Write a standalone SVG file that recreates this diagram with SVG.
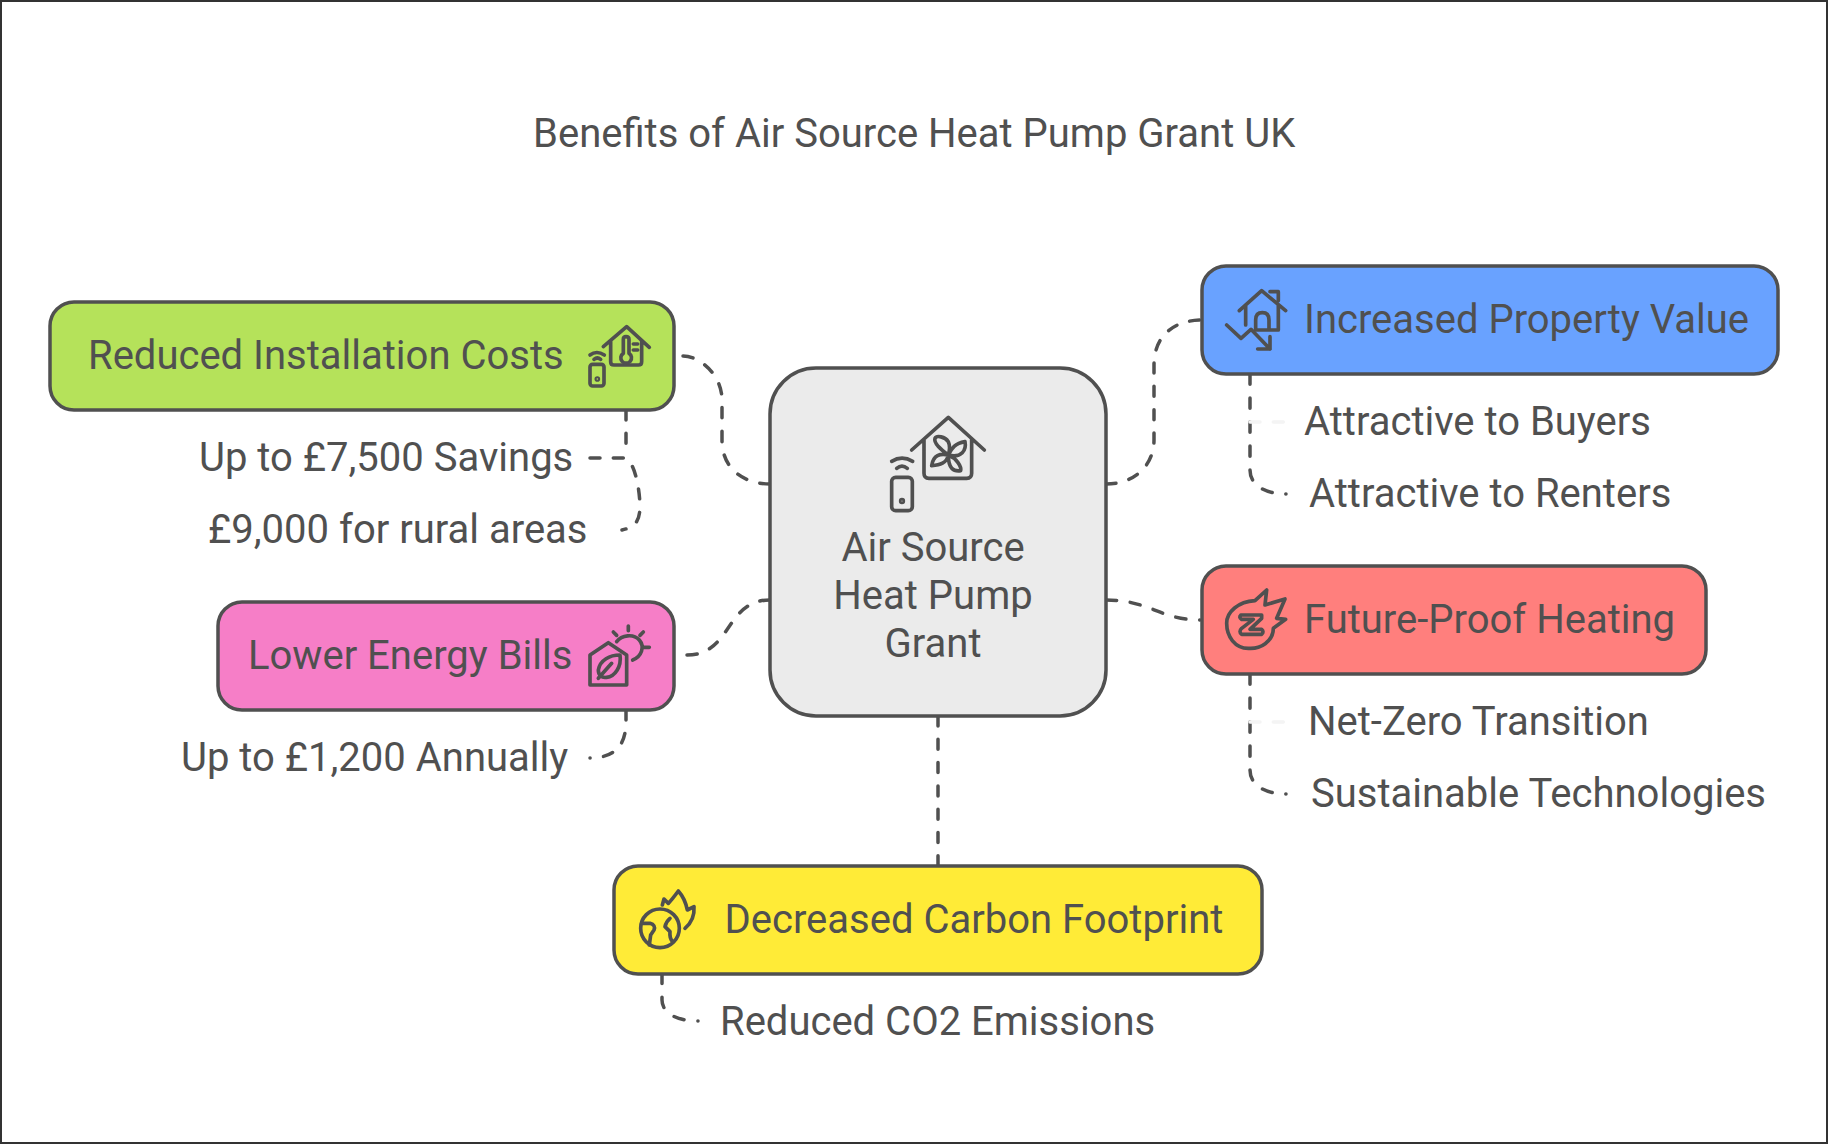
<svg xmlns="http://www.w3.org/2000/svg" width="1828" height="1144" viewBox="0 0 1828 1144">
<style>
text{font-family:Roboto,"Liberation Sans",sans-serif;font-size:40px;fill:#505050}
.box{stroke:#505050;stroke-width:3.5}
.ic{fill:none;stroke:#505050;stroke-width:11;stroke-linecap:round;stroke-linejoin:round}
.con{fill:none;stroke:#505050;stroke-width:3.5;stroke-linecap:round;stroke-dasharray:10 13.3}
.faint{fill:none;stroke:#f4f4f4;stroke-width:3.5;stroke-linecap:round;stroke-dasharray:10 13.3}
</style>
<rect x="0" y="0" width="1828" height="1144" fill="#fff"/>
<rect x="1" y="1" width="1826" height="1142" fill="none" stroke="#333" stroke-width="2"/>
<text id="title" x="533" y="147">Benefits of Air Source Heat Pump Grant UK</text>
<g id="connectors">
<path class="con" pathLength="173.1" d="M770 484C745 484 722 470 722 440L722 400C722 375 700 356 683 356"/>
<path class="con" d="M1106 484C1135 484 1154 465 1154 440L1154 365C1154 335 1175 320 1202 320"/>
<path class="con" pathLength="93.5" d="M1106 600C1150 600 1160 620 1200 620"/>
<path class="con" pathLength="103.2" d="M770 600C725 600 732 655 687 655"/>
<path class="con" d="M938 716V866"/>
<path class="con" d="M626 410V446"/>
<path class="con" d="M590 458L624 458C632 458 639 480 640 505C640 522 635 527 622 530"/>
<path class="con" pathLength="70" d="M626 710V722C626 745 615 758 590 758"/>
<path class="con" pathLength="140" d="M1250 374V470C1250 485 1265 494 1286 494"/>
<path class="faint" d="M1250 422H1286"/>
<path class="con" pathLength="140" d="M1250 674V770C1250 785 1265 794 1286 794"/>
<path class="faint" d="M1250 722H1286"/>
<path class="con" pathLength="70" d="M662 973V1000C662 1012 675 1021 698 1021"/>
</g>
<g id="central">
<rect class="box" x="770" y="368" width="336" height="348" rx="46" fill="#ebebeb"/>
<g class="ic" transform="translate(870 400) scale(.3333)">
<path d="M125 150L235 52L343 150M162 118V220Q162 235 177 235H290Q305 235 305 220V118"/>
<path d="M235 165C215 150 190 130 195 115C200 105 225 110 235 125C242 140 238 155 235 165ZM235 165C245 145 255 130 285 125C290 150 275 175 235 165ZM235 165C260 175 275 200 272 212C250 215 235 205 235 165ZM235 165C210 160 190 165 185 197C210 195 230 190 235 165Z"/>
<rect x="65" y="232" width="62" height="100" rx="12"/>
<path d="M65 184Q96 165 128 184M80 205Q96 192 112 205"/>
<circle cx="96" cy="303" r="4"/>
</g>
<text x="933" y="561" text-anchor="middle">Air Source</text>
<text x="933" y="609" text-anchor="middle">Heat Pump</text>
<text x="933" y="657" text-anchor="middle">Grant</text>
</g>
<g id="reduced-costs">
<rect class="box" x="50" y="302" width="624" height="108" rx="24" fill="#b5e25a"/>
<text x="88" y="369">Reduced Installation Costs</text>
<g class="ic" transform="translate(570 320) scale(.3333)">
<path d="M100 80L170 20L238 82M122 62V125Q122 135 132 135H205Q215 135 215 125V62"/>
<path d="M160 100V58Q160 50 168 50Q177 50 177 58V100A16 16 0 1 1 160 100Z"/>
<path d="M190 72H203M190 90H203M60 105Q80 90 103 105M72 118Q82 110 92 118"/>
<rect x="60" y="133" width="42" height="65" rx="8"/>
<circle cx="82" cy="177" r="3"/>
</g>
</g>
<g id="savings"><text x="199" y="471">Up to £7,500 Savings</text></g>
<g id="rural"><text x="208" y="543">£9,000 for rural areas</text></g>
<g id="lower-bills">
<rect class="box" x="218" y="602" width="456" height="108" rx="24" fill="#f67ec7"/>
<text x="248" y="669">Lower Energy Bills</text>
<g class="ic" transform="translate(580 620) scale(.3333)">
<path d="M30 105L85 68L140 105V195H30Z"/>
<path d="M55 150C60 120 90 105 120 105C125 140 105 170 80 172C65 175 55 165 55 150ZM55 175L95 130"/>
<path d="M110 65C125 45 160 40 178 60C195 80 185 110 158 120M145 18V32M100 36L110 46M190 36L180 46M192 82H208"/>
</g>
</g>
<g id="annually"><text x="181" y="771">Up to £1,200 Annually</text></g>
<g id="property-value">
<rect class="box" x="1202" y="266" width="576" height="108" rx="24" fill="#69a2ff"/>
<text x="1304" y="333">Increased Property Value</text>
<g class="ic" transform="translate(1215 280) scale(.3333)">
<path d="M73 92L140 32L212 92M165 35H190V62M92 78V135M190 75V150H125M122 150V120Q122 98 142 98Q162 98 162 120V150"/>
<path d="M35 135L78 175L108 148L165 207M165 170V207H128"/>
</g>
</g>
<g id="buyers"><text x="1304" y="435">Attractive to Buyers</text></g>
<g id="renters"><text x="1309" y="507">Attractive to Renters</text></g>
<g id="future-proof">
<rect class="box" x="1202" y="566" width="504" height="108" rx="24" fill="#ff7f7d"/>
<text x="1304" y="633">Future-Proof Heating</text>
<g class="ic" transform="translate(1215 580) scale(.3333)">
<path d="M120 62L155 30L150 75L210 57L185 115L212 118L175 145C175 185 135 208 100 205C60 205 35 170 35 130C35 95 70 65 120 62Z"/>
<path d="M78 105H140V115L105 148H140Q148 155 140 163H80Q70 155 80 145L115 118H80Q70 112 78 105Z"/>
</g>
</g>
<g id="net-zero"><text x="1308" y="735">Net-Zero Transition</text></g>
<g id="sustainable"><text x="1311" y="807">Sustainable Technologies</text></g>
<g id="carbon">
<rect class="box" x="614" y="866" width="648" height="108" rx="24" fill="#ffeb37"/>
<text x="724.5" y="933">Decreased Carbon Footprint</text>
<g class="ic" transform="translate(630 885) scale(.3333)">
<circle cx="90" cy="130" r="58"/>
<path d="M35 115H60Q78 120 72 135L62 150L58 180M120 100Q108 110 105 125L120 140Q118 160 128 170"/>
<path d="M97 60L102 42L115 55Q125 45 145 18Q165 40 172 75L192 65Q195 105 165 130"/>
</g>
</g>
<g id="co2"><text x="720" y="1035">Reduced CO2 Emissions</text></g>
</svg>
